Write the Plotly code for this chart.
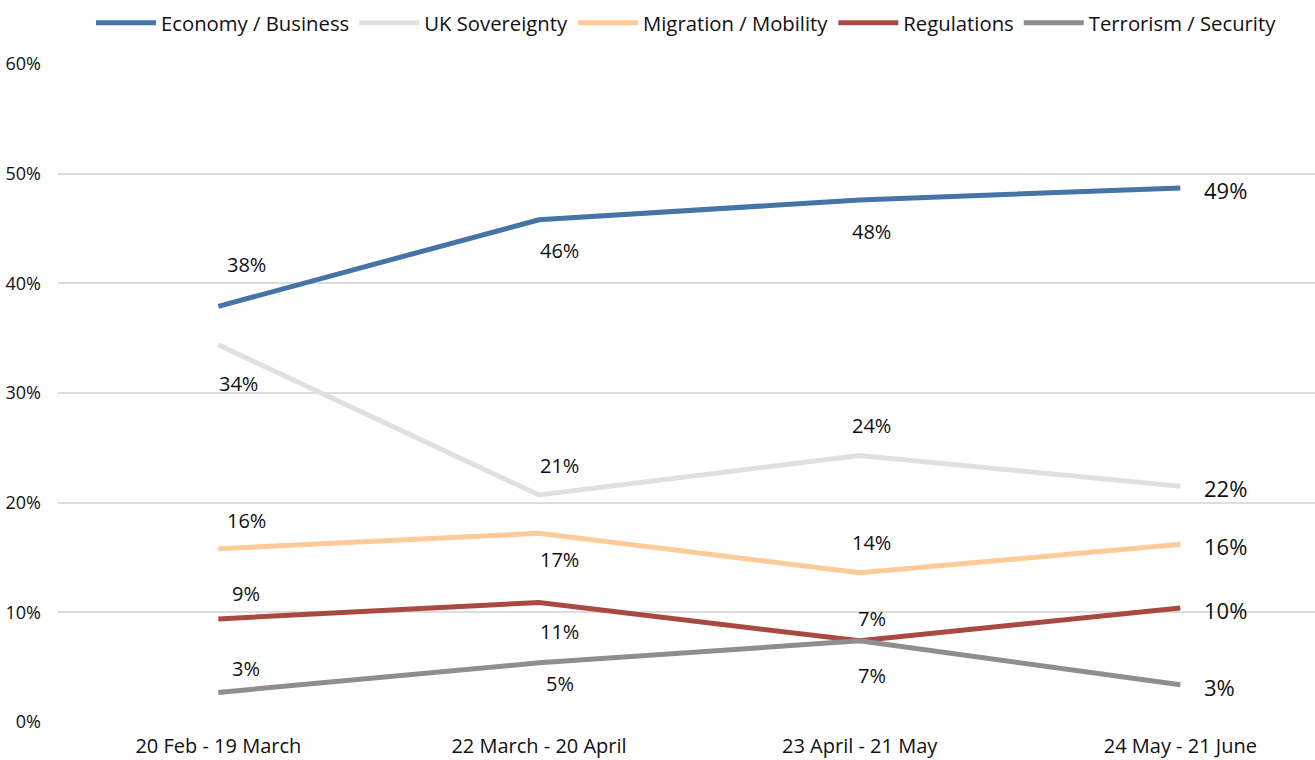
import plotly.graph_objects as go

periods = ["20 Feb - 19 March", "22 March - 20 April", "23 April - 21 May", "24 May - 21 June"]
series_names = ["Economy / Business", "UK Sovereignty", "Migration / Mobility", "Regulations", "Terrorism / Security"]
economy = [37.9, 45.8, 47.6, 48.7]
sovereignty = [34.4, 20.7, 24.3, 21.5]
migration = [15.8, 17.2, 13.6, 16.2]
regulations = [9.4, 10.9, 7.4, 10.4]
terrorism = [2.7, 5.4, 7.4, 3.4]
y_ticks = [0, 10, 20, 30, 40, 50, 60]

colors = ["#4574a6", "#e0e0e0", "#fdca98", "#a94a42", "#8e8e8e"]
# vertical label offset (px) per point for the first three periods; last period labels sit to the right
label_dy = [
    [42, -31, -32],
    [-39, 29, 30],
    [28, -26, 30],
    [25, -29, 22],
    [24, -21, -35],
]
label_dx = [28, 21, 12]
all_series = [economy, sovereignty, migration, regulations, terrorism]

FONT = "'Open Sans', sans-serif"
fig = go.Figure()
annotations = []
for name, vals, col, dys in zip(series_names, all_series, colors, label_dy):
    fig.add_trace(go.Scatter(
        x=list(range(len(periods))), y=vals, name=name, mode="lines",
        line=dict(color=col, width=5), hoverinfo="skip"))
    for i, v in enumerate(vals):
        label = f"{round(v):.0f}%"
        if i == len(vals) - 1:
            annotations.append(dict(x=i, y=v, text=label, showarrow=False, xanchor="left",
                                    xshift=22, yshift=-2, font=dict(size=22, color="#111111", family=FONT)))
        else:
            annotations.append(dict(x=i, y=v, text=label, showarrow=False, xanchor="center",
                                    xshift=label_dx[i] if not (i == 0 and dys[i] < 0) else 20,
                                    yshift=dys[i], font=dict(size=20, color="#111111", family=FONT)))

fig.update_layout(
    width=1315, height=760,
    margin=dict(l=58, r=0, t=64, b=38),
    paper_bgcolor="white", plot_bgcolor="white",
    font=dict(family=FONT, size=16, color="#111111"),
    annotations=annotations,
    showlegend=True,
    legend=dict(orientation="h", x=0.5, xanchor="center", y=0.996, yref="container", yanchor="top",
                font=dict(size=20.3, family=FONT, color="#111111"), itemwidth=60,
                traceorder="normal", bgcolor="rgba(0,0,0,0)"),
    xaxis=dict(range=[-0.5, 3.42], tickmode="array", tickvals=list(range(len(periods))), ticktext=periods,
               showgrid=False, zeroline=False, showline=False, ticks="", ticklabelstandoff=10,
               tickfont=dict(size=20)),
    yaxis=dict(range=[0, 60], tickmode="array", tickvals=y_ticks, ticktext=[f"{t}%" for t in y_ticks],
               showgrid=True, gridcolor="#dddddd", gridwidth=2, zeroline=False, showline=False,
               ticks="", ticklabelstandoff=16, tickfont=dict(size=18)),
)
fig.write_html("out.html", config={"displayModeBar": False},
               post_script="document.body.style.margin='0';")
